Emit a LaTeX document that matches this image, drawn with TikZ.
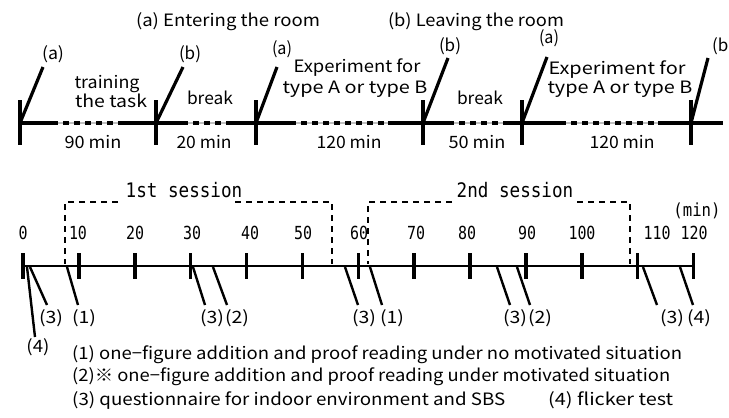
\documentclass[tikz,border=0pt]{standalone}
\usepackage{fontspec}
\setmainfont{Noto Sans CJK JP}
\newfontfamily\monof{DejaVu Sans Mono}
\newsavebox\fitbx
\newdimen\fitd
\newcommand\fitw[2]{\sbox\fitbx{#2}\fitd=\wd\fitbx\pgfmathsetmacro\fitr{#1/\fitd}\scalebox{\fitr}[1]{\usebox\fitbx}}
\newcommand\tknum[1]{\scalebox{0.83}[1]{\monof\fontsize{18}{18}\selectfont #1}}
\tikzset{
  txt/.style={inner sep=0pt, font=\fontsize{17}{20}\selectfont},
  leg/.style={inner sep=0pt, anchor=west, font=\fontsize{17}{20}\selectfont},
  bar/.style={line width=4pt},
  dbar/.style={line width=4pt, dash pattern=on 6pt off 5pt},
  gbar/.style={line width=1.5pt, black!25},
  ttick/.style={line width=4pt},
  slash/.style={line width=3.2pt},
  axisl/.style={line width=2.5pt},
  atick/.style={line width=3.5pt},
  mline/.style={line width=2.4pt},
  sess/.style={line width=2.4pt, dash pattern=on 6pt off 5pt},
}
\begin{document}
\begin{tikzpicture}[x=1pt,y=-1pt]
\useasboundingbox (0,0) rectangle (729,418);
% header
\node[txt] (hA) at (228,22) {\fitw{184}{(a) Entering the room}};
\node[txt] (hB) at (476,22) {\fitw{176}{(b) Leaving the room}};
% top timeline
\draw[gbar] (20,123) -- (723,123);
\foreach \a/\b in {20/52,118/182,227/290,388/448,505/560,658/723}
  \draw[bar] (\a,123) -- (\b,123);
\foreach \a/\b in {52/118,182/227,290/388,448/505,560/658}
  \draw[dbar] (\a,123) -- (\b,123);
\foreach \i/\x in {0/20,1/156,2/256,3/423,4/522,5/691}{
  \coordinate (T\i) at (\x,123);
  \draw[ttick] (\x,100) -- (\x,145);
}
\foreach \i/\x/\y in {0/43/67,1/183/67,2/277/67,3/448/58,4/547/57,5/708/58}{
  \coordinate (S\i) at (\x,\y);
  \draw[slash] (T\i) -- (S\i);
}
\node[txt] (la0) at (53,54) {\fitw{22}{(a)}};
\node[txt] (lb1) at (190,54) {\fitw{22}{(b)}};
\node[txt] (la2) at (282,49) {\fitw{20}{(a)}};
\node[txt] (lb3) at (450,46) {\fitw{22}{(b)}};
\node[txt] (la4) at (549,38) {\fitw{20}{(a)}};
\node[txt] (lb5) at (723,46) {\fitw{22}{(b)}};
\node[txt] (tr1) at (107,84) {\fitw{65}{training}};
\node[txt] (tr2) at (111,101) {\fitw{72}{the task}};
\node[txt] (br1) at (210,98) {\fitw{46}{break}};
\node[txt] (br2) at (480,98) {\fitw{46}{break}};
\node[txt] (ex1) at (357,68) {\fitw{127}{Experiment for}};
\node[txt] (ty1) at (355,89) {\fitw{145}{type A or type B}};
\node[txt] (ex2) at (617,70) {\fitw{137}{Experiment for}};
\node[txt] (ty2) at (620,89) {\fitw{145}{type A or type B}};
\node[txt] (d1) at (93,142) {\fitw{57}{90 min}};
\node[txt] (d2) at (204,142) {\fitw{55}{20 min}};
\node[txt] (d3) at (349,142) {\fitw{65}{120 min}};
\node[txt] (d4) at (477,142) {\fitw{57}{50 min}};
\node[txt] (d5) at (622,142) {\fitw{65}{120 min}};
% sessions
\draw[sess] (118,202) -- (65,202) -- (65,264);
\draw[sess] (235,202) -- (332,202) -- (332,264);
\draw[sess] (452,202) -- (368,202) -- (368,264);
\draw[sess] (577,202) -- (630,202) -- (630,264);
\node[inner sep=0pt] (s1) at (184,190) {\scalebox{0.88}[1]{\monof\fontsize{20}{20}\selectfont 1st session}};
\node[inner sep=0pt] (s2) at (515,190) {\scalebox{0.88}[1]{\monof\fontsize{20}{20}\selectfont 2nd session}};
% axis
\coordinate (A0) at (23,266);
\coordinate (A120) at (693.5,266);
\draw[axisl] (A0) -- (A120);
\foreach \m in {0,10,...,120}
  \draw[atick] ({23+5.5875*\m},253) -- ({23+5.5875*\m},279);
\foreach \t/\x in {0/23,10/78,20/135,30/192,40/250,50/303,60/359,70/416,80/467,90/527,100/582,110/657,120/694}
  \node[inner sep=0pt] (n\t) at (\x,233) {\tknum{\t}};
\node[inner sep=0pt] (unit) at (697,211) {\scalebox{0.87}[1]{\monof\fontsize{18}{18}\selectfont (min)}};
% markers
\coordinate (m0s) at (27,267); \coordinate (m0e) at (35,337);
\draw[mline] (m0s) -- (m0e);
\node[txt] (m0l) at (38,347) {\fitw{23}{(4)}};
\foreach \i/\sx/\ex/\lx/\lab in {1/30/47/51/3,2/67/78/84/1,3/193/205/212/3,4/213/227/237/2,5/345/358/364/3,6/370/382/392/1,7/497/510/515/3,8/517/530/540/2,9/643/657/672/3,10/680/693/699/4}{
  \coordinate (m\i s) at (\sx,267);
  \coordinate (m\i e) at (\ex,305);
  \draw[mline] (m\i s) -- (m\i e);
  \node[txt] (m\i l) at (\lx,318) {\fitw{24}{(\lab)}};
}
% legend
\node[leg] (g1) at (72,355) {\fitw{610}{(1) one−figure addition and proof reading under no motivated situation}};
\node[leg] (g2) at (72,377) {\fitw{598}{(2)※ one−figure addition and proof reading under motivated situation}};
\node[leg] (g3) at (72,400) {\fitw{433}{(3) questionnaire for indoor environment and SBS}};
\node[leg] (g4) at (548,400) {\fitw{125}{(4) flicker test}};
\end{tikzpicture}
\end{document}
